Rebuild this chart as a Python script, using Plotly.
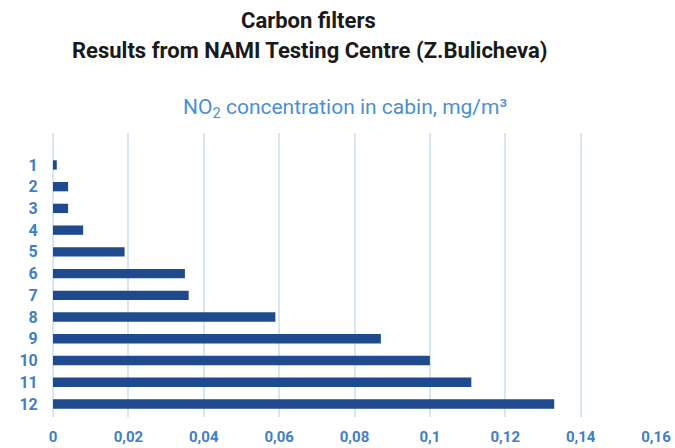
import plotly.graph_objs as go

samples = ['1', '2', '3', '4', '5', '6', '7', '8', '9', '10', '11', '12']
no2_values = [0.001, 0.004, 0.004, 0.008, 0.019, 0.035, 0.036, 0.059, 0.087, 0.100, 0.111, 0.133]
x_ticks = [0, 0.02, 0.04, 0.06, 0.08, 0.1, 0.12, 0.14, 0.16]
x_tick_text = ['0', '0,02', '0,04', '0,06', '0,08', '0,1', '0,12', '0,14', '0,16']

font_family = 'Roboto, Liberation Sans, sans-serif'
blue_text = '#3f80c6'

W, H = 675, 448
ML, MR, MT, MB = 53, 19, 133, 31
plot_w = W - ML - MR
plot_h = H - MT - MB


def to_paper(px, py):
    # pixel position in the 675x448 page -> paper coordinates
    return (px - ML) / plot_w, (H - MB - py) / plot_h


bar_trace = go.Bar(
    x=no2_values,
    y=samples,
    orientation='h',
    marker=dict(color='#1f4b8e', line=dict(width=0)),
    width=0.43,
    hoverinfo='x+y'
)

titles = [
    ('<b>Carbon filters</b>', 308, 20, 22, '#1a1a1a'),
    ('<b>Results from NAMI Testing Centre (Z.Bulicheva)</b>', 309, 51, 22, '#1a1a1a'),
    ('NO<sub>2</sub> concentration in cabin, mg/m³', 345, 108, 21, '#4a8fd4'),
]
annotations = []
for text, px, py, size, color in titles:
    ax, ay = to_paper(px, py)
    annotations.append(dict(
        text=text, x=ax, y=ay, xref='paper', yref='paper',
        xanchor='center', yanchor='middle', showarrow=False,
        font=dict(family=font_family, size=size, color=color)
    ))

figure_layout = go.Layout(
    width=W, height=H,
    showlegend=False,
    margin=dict(l=ML, r=MR, t=MT, b=MB),
    plot_bgcolor='white',
    paper_bgcolor='white',
    xaxis=dict(
        range=[0, 0.16],
        tickvals=x_ticks,
        ticktext=x_tick_text,
        showgrid=True,
        gridcolor='#d8e5f3',
        gridwidth=1.5,
        zeroline=True,
        zerolinecolor='#d8e5f3',
        zerolinewidth=1.5,
        tickfont=dict(family=font_family, size=15, color=blue_text, weight='bold'),
        ticks='outside',
        ticklen=6,
        tickcolor='rgba(0,0,0,0)',
        automargin=False,
    ),
    yaxis=dict(
        type='category',
        range=[11.6, -1.47],
        showgrid=False,
        zeroline=False,
        tickfont=dict(family=font_family, size=16, color=blue_text, weight='bold'),
        ticks='outside',
        ticklen=11,
        tickcolor='rgba(0,0,0,0)',
        automargin=False,
    ),
    annotations=annotations,
)

fig = go.Figure(data=[bar_trace], layout=figure_layout)
# drop the browser's default body margin so the figure fills the window
fig.write_html("out.html", config={'displayModeBar': False},
               post_script="document.body.style.margin='0';")
